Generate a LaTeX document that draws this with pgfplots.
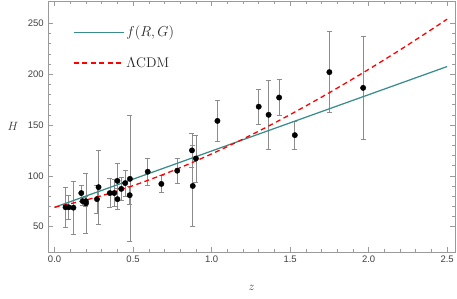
\documentclass[border=0pt]{standalone}
\usepackage{fontspec}
\usepackage{pgfplots}
\usepackage{pgfplotstable}
\pgfplotsset{compat=1.18}
\newfontfamily\ticksans{Liberation Sans}
\definecolor{tealc}{HTML}{3A8C8C}
\definecolor{framec}{HTML}{9A9A9A}
\definecolor{errc}{HTML}{8C8C8C}
\pgfplotstableread{
z H e
0.07 69 19.6
0.09 69 12
0.12 68.6 26.2
0.17 83 8
0.179 75 4
0.199 75 5
0.2 72.9 29.6
0.27 77 14
0.28 88.8 36.6
0.352 83 14
0.3802 83 13.5
0.4 95 17
0.4004 77 10.2
0.4247 87.1 11.2
0.4497 92.8 12.9
0.4783 80.9 9
0.48 97 62
0.593 104 13
0.68 92 8
0.781 105 12
0.875 125 17
0.88 90 40
0.9 117 23
1.037 154 20
1.3 168 17
1.363 160 33.6
1.43 177 18
1.53 140 14
1.75 202 40
1.965 186.5 50.4
}\ohd
\pgfplotstableread{
z H
0.0 69.0
2.5 207.5
}\fRG
\pgfplotstableread{
z H
0.0 69.0
0.25 78.2
0.5 90.3
0.75 104.8
1.0 121.5
1.25 140.0
1.5 160.2
1.75 181.8
2.0 204.7
2.25 228.8
2.5 254.1
}\lcdm
\begin{document}
\begin{tikzpicture}
\begin{axis}[
  at={(0,0)}, anchor=south west,
  scale only axis, width=406.7pt, height=251pt,
  xmin=-0.04, xmax=2.55, ymin=25, ymax=272,
  xtick={0,0.5,1,1.5,2,2.5}, ytick={50,100,150,200,250},
  minor x tick num=4, minor y tick num=4,
  tick align=inside, major tick length=5pt, minor tick length=3pt,
  axis line style={framec, line width=0.6pt},
  tick style={framec, line width=0.5pt},
  ticklabel style={font=\ticksans\fontsize{9.5}{11}\selectfont, text=black!75},
  /pgf/number format/assume math mode=true,
  x tick label style={/pgf/number format/.cd, fixed, fixed zerofill, precision=1},
  yticklabel style={xshift=-1pt},
  xlabel={$z$}, ylabel={$H$},
  label style={font=\fontsize{13}{15}\selectfont, text=black!80},
  x label style={at={(axis description cs:0.5,-0.143)}, anchor=center},
  y label style={at={(axis description cs:-0.087,0.5)}, anchor=center, rotate=-90},
  legend style={at={(axis description cs:0.053,0.917)}, anchor=north west, draw=none, fill=none,
    font=\fontsize{14}{16}\selectfont, row sep=15pt, text=black!85},
  legend cell align=left,
  legend image code/.code={\draw[#1] (0pt,0pt) -- (50pt,0pt);},
]
\addplot[forget plot, only marks, mark=*, mark size=2.7pt, mark options={black, fill=black},
  error bars/.cd, y dir=both, y explicit,
  error bar style={errc, line width=0.7pt},
  error mark options={rotate=90, errc, mark size=2.5pt, line width=0.7pt}]
  table[x=z, y=H, y error=e] {\ohd};
\addplot[tealc, line width=1.25pt] table[x=z, y=H] {\fRG};
\addlegendentry{$f(R,G)$}
\addplot[red, line width=1.3pt, dash pattern=on 5pt off 3.5pt, smooth] table[x=z, y=H] {\lcdm};
\addlegendentry{$\Lambda$CDM}
\end{axis}
\pgfresetboundingbox
\path[use as bounding box] (-48.3pt,-47pt) rectangle (408.7pt,252pt);
\end{tikzpicture}
\end{document}
